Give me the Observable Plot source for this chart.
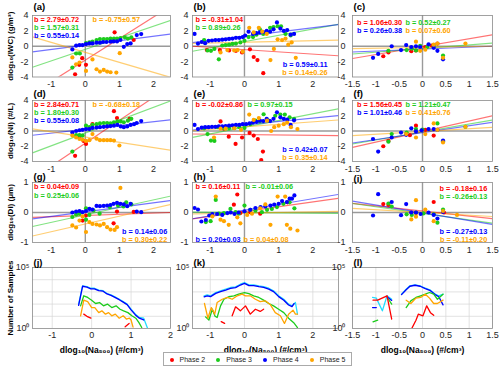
<!DOCTYPE html>
<html><head><meta charset="utf-8">
<script src="https://cdn.jsdelivr.net/npm/d3@7"></script>
<script src="https://cdn.jsdelivr.net/npm/@observablehq/plot@0.6"></script>
<style>
body{margin:0;background:#fff;}
#wrap{position:relative;width:500px;height:370px;overflow:hidden;font-family:"Liberation Sans",Arial,sans-serif;}
#legend{position:absolute;left:163px;top:352px;width:189px;height:14px;border:1px solid #aaa;font-size:7px;color:#222;display:flex;align-items:center;justify-content:space-around;box-sizing:border-box;background:#fff}
#legend span.dot{display:inline-block;width:4px;height:4px;border-radius:50%;margin-right:6px;vertical-align:middle}
</style></head>
<body><div id="wrap"></div>
<script>
// ---------- tick labels ----------
const ticksWide = [-1, 0, 1, 2];
const ticksNarrow = [-1.5, -1, -0.5, 0, 0.5, 1, 1.5];
const ticksRow12 = [-4, -2, 0, 2, 4];
const ticksRow3 = [-1, 0, 1];
const ticksCount = [1, 100000];
const gridCount = [10, 100, 1000, 10000];
const phaseNames = ["Phase 2", "Phase 3", "Phase 4", "Phase 5"];
const yTitles = ["dlog₁₀(IWC) (g/m³)", "dlog₁₀(Ni) (#/L)", "dlog₁₀(Di) (μm)", "Number of Samples"];
const xTitle = "dlog₁₀(Na₅₀₀) (#/cm³)";

// ---------- (a) IWC ----------
const aRed = [[-0.3,-3.65],[-0.18,-2.42],[-0.09,-1.55],[0.02,-2.42],[0.86,1.81],[1.42,0.81]];
const aGreen = [[-0.38,-2.77],[-0.27,-0.94],[-0.16,-0.94],[0.02,0.41],[0.12,0.5],[0.21,0.6],[0.33,0.8],[0.43,0.94],[0.54,0.94],[0.64,0.94],[0.74,1.0],[0.84,1.0],[0.93,1.0],[1.03,1.07],[1.16,1.16],[1.25,1.0],[1.35,1.16]];
const aBlue = [[-0.38,-0.41],[-0.27,0.07],[-0.17,0.15],[-0.08,0.15],[0.02,0.28],[0.12,0.37],[0.21,0.37],[0.33,0.46],[0.43,0.46],[0.52,0.55],[0.62,0.55],[0.74,0.59],[0.83,0.63],[0.93,0.63],[1.03,0.81],[1.13,-0.07],[1.23,0.28],[1.33,0.37],[1.51,1.46],[1.64,1.59]];
const aOrange = [[-0.38,-1.46],[-0.27,-2.34],[-0.17,-2.12],[0.02,-3.21],[0.21,-1.72],[0.33,-2.99],[0.43,-3.3],[0.54,-3.08],[0.64,-3.3],[0.74,-3.38],[0.91,-3.43],[1.01,-0.9]];
const aFits = [[-1.8,2.8],[-0.4,1.5],[0.15,0.57],[-0.8,-1.3]];
const aNotes = ["b = 2.79±0.72","b = 1.57±0.31","b = 0.55±0.14","b = -0.75±0.57"];

// ---------- (b) IWC ----------
const bRed = [[-1.1,-0.5],[-0.72,-0.5],[-0.45,-0.55],[-0.25,-0.6],[-0.07,-0.8],[0.16,-0.4],[0.27,-1.4],[0.38,-1.8],[0.55,-3.5]];
const bGreen = [[-1.18,0.8],[-1.08,-0.55],[-0.98,-0.6],[-0.88,-0.35],[-0.75,-1.7],[-0.65,0.1],[-0.55,0.15],[-0.45,0.2],[-0.35,0.3],[-0.25,0.35],[-0.12,0.5],[0.0,0.7],[0.12,1.2],[0.25,1.2],[0.35,1.5],[0.45,2.2],[0.55,1.6],[0.65,1.8],[0.75,2.4],[0.85,2.5],[0.97,2.6],[1.07,2.6],[1.2,1.6],[1.35,1.4]];
const bBlue = [[-1.46,1.6],[-1.36,0.35],[-1.25,0.55],[-1.15,0.4],[-1.05,0.7],[-0.95,0.75],[-0.85,0.8],[-0.75,0.8],[-0.65,0.85],[-0.55,0.9],[-0.45,0.95],[-0.35,1.0],[-0.25,1.1],[-0.15,1.1],[-0.05,1.2],[0.02,1.4],[0.12,1.9],[0.25,1.6],[0.35,1.7],[0.45,1.8],[0.55,1.85],[0.65,2.0],[0.75,1.9],[0.85,2.2],[0.95,3.1],[1.05,2.3],[1.15,2.0],[1.25,2.1],[1.35,1.5],[1.45,1.6]];
const bOrange = [[-0.7,-0.8],[-0.5,-0.5],[-0.3,-0.55],[-0.2,-0.5],[-0.05,-0.7],[0.14,2.4],[0.27,1.8],[0.42,2.4],[0.52,1.9],[0.65,1.6],[0.76,-1.8],[0.86,-0.35],[0.97,0.9],[1.1,0.8],[1.2,1.0],[1.28,0.2],[1.38,0.5],[1.5,-1.5]];
const bFits = [[-0.44,-0.29],[0.6,0.82],[1.3,0.55],[0.53,0.1]];
const bNotes = ["b = -0.31±1.04","b = 0.89±0.26","b = 0.59±0.11","b = 0.14±0.26"];

// ---------- (c) IWC ----------
const cRed = [[-0.84,-1.3],[-0.73,-0.8],[-0.24,-0.65],[-0.14,-0.55],[0.06,-0.1],[0.2,0.1],[0.32,0.35]];
const cGreen = [[-0.73,-0.6],[-0.34,-0.5],[-0.23,-0.3],[-0.14,-0.55],[-0.05,0.05],[0.1,-0.1],[0.24,0.1],[0.44,-1.2]];
const cBlue = [[-1.06,-1.5],[-0.95,-1.0],[-0.66,0.0],[-0.46,-0.5],[-0.35,0.15],[-0.24,-0.1],[-0.14,0.0],[-0.05,-0.1],[0.13,0.25],[0.24,-0.2],[0.32,-0.6],[0.44,-1.7]];
const cOrange = [[-0.14,0.6],[-0.05,-0.6],[0.06,-0.45],[0.24,0.2],[0.32,0.35],[0.44,-1.5],[0.92,0.35]];
const cFits = [[-0.05,1.03],[-0.3,0.47],[-0.37,0.25],[-0.15,0.1]];
const cNotes = ["b = 1.06±0.30","b = 0.52±0.27","b = 0.26±0.38","b = 0.07±0.60"];

// ---------- (d) Ni ----------
const dRed = [[-0.3,-3.25],[-0.17,-0.8],[-0.05,-1.3],[0.02,-1.7],[0.21,0.9],[0.84,2.6],[0.93,1.7],[1.3,1.6]];
const dGreen = [[-0.38,-2.7],[-0.27,-0.55],[-0.17,-0.55],[-0.08,-0.6],[0.02,0.7],[0.12,0.5],[0.21,0.8],[0.33,0.9],[0.43,1.0],[0.54,1.05],[0.64,1.05],[0.74,1.0],[0.84,1.15],[0.94,1.25],[1.04,1.25],[1.13,1.15],[1.25,1.35],[1.35,1.6]];
const dBlue = [[-0.38,-0.2],[-0.27,0.0],[-0.17,0.1],[-0.08,0.15],[0.02,0.25],[0.12,0.25],[0.21,0.4],[0.33,0.45],[0.43,0.5],[0.54,0.55],[0.64,0.6],[0.74,0.65],[0.84,0.7],[0.94,0.8],[1.04,0.6],[1.13,0.5],[1.23,0.6],[1.33,0.8],[1.43,0.9],[1.51,1.05],[1.64,1.3]];
const dOrange = [[-0.38,-0.6],[-0.27,-0.85],[-0.17,-1.05],[-0.08,-1.15],[0.02,-1.3],[0.12,-1.2],[0.21,-0.4],[0.33,-1.0],[0.43,-1.2],[0.54,-1.2],[0.64,-1.2],[0.74,-1.2],[0.84,-1.25],[1.0,-1.9]];
const dFits = [[-1.6,3.0],[-0.26,1.68],[0.22,0.5],[-0.78,-0.69]];
const dNotes = ["b = 2.84±0.71","b = 1.80±0.30","b = 0.55±0.08","b = -0.68±0.18"];

// ---------- (e) Ni ----------
const eRed = [[-0.7,1.25],[-0.6,0.3],[-0.46,-0.75],[-0.26,-1.7],[-0.07,-0.85],[0.15,-0.25],[0.27,-0.6],[0.39,-1.05],[0.54,-2.7],[0.49,-3.8]];
const eGreen = [[-1.18,0.35],[-1.08,-0.4],[-0.98,-1.25],[-0.88,-1.3],[-0.78,0.5],[-0.6,0.35],[-0.45,0.35],[-0.3,0.4],[-0.15,0.5],[0.0,0.4],[0.17,0.9],[0.32,1.35],[0.45,1.25],[0.56,2.2],[0.7,1.35],[0.9,2.0],[1.05,2.15],[1.18,2.15],[1.32,1.8],[1.45,1.6]];
const eBlue = [[-1.46,0.8],[-1.36,0.25],[-1.25,0.45],[-1.15,0.5],[-1.05,0.5],[-0.95,0.55],[-0.85,0.55],[-0.75,0.6],[-0.65,0.6],[-0.55,0.65],[-0.45,0.7],[-0.35,0.75],[-0.25,0.8],[-0.15,0.8],[-0.05,0.9],[0.05,0.9],[0.15,1.0],[0.25,1.1],[0.35,1.2],[0.45,1.35],[0.55,1.3],[0.65,1.6],[0.75,1.3],[0.85,1.6],[0.95,2.45],[1.05,1.8],[1.15,1.6],[1.25,1.5],[1.35,0.8],[1.45,1.4]];
const eOrange = [[-0.89,-0.85],[-0.7,0.3],[-0.55,0.3],[-0.3,0.35],[-0.1,0.15],[0.14,2.15],[0.27,1.45],[0.42,1.7],[0.66,1.35],[0.78,0.0],[0.87,0.5],[1.0,0.7],[1.15,0.9],[1.25,1.1],[1.36,0.5],[1.55,0.25]];
const eFits = [[-0.47,-0.05],[0.5,0.88],[0.8,0.44],[0.54,0.33]];
const eNotes = ["b = -0.02±0.86","b = 0.97±0.15","b = 0.42±0.07","b = 0.35±0.14"];

// ---------- (f) Ni ----------
const fRed = [[-0.84,-2.0],[-0.73,-1.3],[-0.27,-0.55],[-0.14,0.7],[0.06,0.15],[0.24,-0.6]];
const fGreen = [[-0.73,-1.4],[-0.66,-0.4],[-0.34,-0.2],[-0.14,0.25],[0.0,0.2],[0.32,1.0],[0.44,-1.35],[0.92,0.55]];
const fBlue = [[-1.06,-1.05],[-0.95,-2.7],[-0.66,-0.85],[-0.46,-0.2],[-0.35,-0.5],[-0.24,0.35],[-0.14,-0.05],[-0.02,0.1],[0.13,0.25],[0.24,0.25],[0.32,0.15],[0.44,-1.25]];
const fOrange = [[-0.35,-0.4],[-0.14,-0.85],[0.06,-0.4],[0.24,1.0],[0.32,0.15],[0.44,-1.5],[0.92,0.55]];
const fFits = [[-0.07,1.38],[-0.13,1.05],[-0.22,0.9],[-0.06,0.36]];
const fNotes = ["b = 1.56±0.45","b = 1.21±0.47","b = 1.01±0.46","b = 0.41±0.76"];

// ---------- (g) Di ----------
const gRed = [[-0.08,-0.27],[0.02,-0.1],[0.83,-0.36],[0.93,0.03],[1.42,0.02]];
const gGreen = [[-0.38,-0.15],[-0.27,-0.07],[-0.17,-0.04],[0.02,0.14],[0.02,-0.24],[0.12,-0.08],[0.24,0.07],[0.42,-0.04],[0.72,0.18],[0.96,0.23],[1.12,0.2],[1.2,0.34],[1.35,0.27]];
const gBlue = [[-0.38,0.0],[-0.27,0.03],[-0.17,0.05],[-0.08,0.01],[0.02,0.05],[0.12,0.12],[0.21,0.1],[0.33,0.22],[0.43,0.21],[0.54,0.22],[0.64,0.23],[0.74,0.25],[0.83,0.29],[0.93,0.32],[1.03,0.29],[1.13,0.27],[1.23,0.21],[1.33,0.29],[1.51,0.03],[1.64,0.01]];
const gOrange = [[-0.38,-0.43],[-0.27,-0.5],[-0.17,-0.27],[-0.08,-0.13],[0.02,-0.65],[0.12,-0.32],[0.21,-0.38],[0.33,-0.4],[0.43,-0.43],[0.54,-0.38],[0.64,-0.49],[0.74,-0.57],[0.86,-0.58],[0.93,-0.49],[1.03,0.82]];
const gFits = [[-0.1,0.04],[-0.08,0.25],[0.02,0.15],[-0.38,0.26]];
const gNotes = ["b = 0.04±0.09","b = 0.25±0.06","b = 0.14±0.06","b = 0.30±0.22"];

// ---------- (h) Di ----------
const hRed = [[-0.31,0.26],[-0.21,0.6],[-0.12,-0.02],[0.17,0.01],[0.46,-0.04],[1.26,0.34]];
const hGreen = [[-1.13,-0.32],[-0.99,-0.29],[-0.84,0.42],[-0.75,-0.04],[-0.6,-0.02],[-0.41,0.12],[-0.26,0.01],[-0.17,-0.04],[0.0,0.23],[0.17,0.09],[0.32,0.07],[0.51,0.01],[0.66,0.09],[0.8,0.12],[0.95,0.18],[1.14,0.29],[1.32,0.34],[1.46,0.14]];
const hBlue = [[-1.46,0.15],[-1.36,0.1],[-1.26,-0.3],[-1.13,-0.25],[-1.03,-0.1],[-0.94,-0.05],[-0.8,-0.05],[-0.65,-0.08],[-0.5,-0.02],[-0.4,0.0],[-0.29,-0.05],[-0.17,0.0],[0.0,0.04],[0.17,0.09],[0.32,0.15],[0.47,0.18],[0.61,0.2],[0.76,0.23],[0.87,0.26],[1.0,0.29],[1.1,0.38],[1.24,0.35],[1.32,0.46],[1.39,0.46],[1.46,0.57]];
const hOrange = [[-0.84,0.53],[-0.94,-0.13],[-0.7,-0.24],[-0.6,-0.29],[-0.46,-0.41],[-0.21,-0.16],[-0.12,-0.36],[0.08,-0.08],[0.22,-0.04],[0.46,0.14],[0.61,0.27],[0.76,-0.41],[0.97,0.53],[1.19,0.53],[1.24,-0.41],[1.34,-0.54],[1.55,-0.6]];
const hFits = [[0.03,0.16],[0.0,-0.01],[0.08,0.19],[-0.02,0.02]];
const hNotes = ["b = 0.16±0.11","b = -0.01±0.06","b = 0.20±0.03","b = 0.04±0.08"];

// ---------- (i) Di ----------
const iRed = [[-0.84,0.28],[-0.73,0.25],[-0.24,0.0],[-0.14,-0.02],[0.24,0.35],[0.46,0.0]];
const iGreen = [[-0.73,0.3],[-0.66,0.2],[-0.34,-0.06],[-0.23,-0.08],[-0.14,0.0],[0.02,-0.03],[0.24,-0.06],[0.32,-0.34],[0.44,0.1]];
const iBlue = [[-1.06,-0.1],[-0.95,0.61],[-0.66,0.35],[-0.46,-0.09],[-0.35,0.28],[-0.24,0.0],[-0.14,0.0],[-0.04,-0.05],[0.13,0.0],[0.24,-0.08],[0.32,-0.2],[0.44,0.02]];
const iOrange = [[-0.14,0.41],[-0.24,-0.23],[-0.14,-0.14],[0.06,0.1],[0.24,-0.29],[0.44,0.05],[0.74,-0.08]];
const iFits = [[0.05,-0.17],[-0.03,-0.22],[-0.01,-0.26],[0.0,-0.09]];
const iNotes = ["b = -0.18±0.16","b = -0.26±0.13","b = -0.27±0.13","b = -0.11±0.20"];

// ---------- (j)(k)(l) number of samples (null = gap) ----------
const jCyan = [[-0.33,100],[-0.23,3160],[-0.12,2750],[-0.02,2000],[0.07,2000],[0.18,1380],[0.29,1260],[0.39,740],[0.49,575],[0.59,400],[0.7,250],[0.8,160],[0.9,100],[1.0,38],[1.11,15],[1.21,8],[1.32,7],[1.42,1]];
const jBlue = [[-0.33,80],[-0.23,2900],[-0.12,2500],[-0.02,1800],[0.07,1800],[0.18,1250],[0.29,1150],[0.39,680],[0.49,520],[0.59,360],[0.7,230],[0.8,145],[0.9,90],[1.0,34],[1.11,13],[1.21,7],[1.32,5]];
const jGreen = [[-0.28,72],[-0.2,480],[-0.1,350],[0,210],[0.1,112],[0.2,135],[0.3,72],[0.4,100],[0.51,52],[0.62,72],[0.72,38],[0.81,28],[0.92,20],[1.02,11],[1.12,7],[1.2,3],[1.27,1.2]];
const jOrange = [[-0.28,11],[-0.2,210],[-0.1,160],[0,52],[0.08,52],[0.18,20],[0.26,28],[0.35,15],[0.43,20],[0.51,11],[0.6,15],[0.7,7],[0.8,11],[0.88,6],[0.96,7],[1.0,5],[1.05,1.3]];
const jRed = [[-0.2,15],[-0.12,10],[-0.02,7],[0.05,null],[0.85,1.4],[0.95,2.6]];
const kCyan = [[-1.18,480],[-1.09,575],[-0.99,480],[-0.84,890],[-0.7,1230],[-0.55,1660],[-0.41,2290],[-0.26,2630],[-0.12,4270],[0,5890],[0.13,3800],[0.27,3800],[0.42,3160],[0.56,2750],[0.71,2000],[0.85,1230],[1.0,480],[1.15,250],[1.29,100],[1.39,72],[1.49,135],[1.55,15]];
const kBlue = [[-1.18,400],[-1.09,480],[-0.99,410],[-0.84,760],[-0.7,1050],[-0.55,1420],[-0.41,1950],[-0.26,2250],[-0.12,3650],[0,5000],[0.13,3250],[0.27,3250],[0.42,2700],[0.56,2350],[0.71,1700],[0.85,1050],[1.0,410],[1.15,210],[1.29,85],[1.39,62],[1.45,110]];
const kGreen = [[-1.14,9],[-1.04,5],[-0.94,38],[-0.86,10],[-0.8,8],[-0.7,72],[-0.6,250],[-0.46,400],[-0.31,480],[-0.17,650],[0,890],[0.13,710],[0.27,480],[0.42,350],[0.56,210],[0.71,112],[0.85,72],[1.0,38],[1.15,20],[1.29,7],[1.44,3],[1.55,1.2]];
const kOrange = [[-1.17,112],[-1.07,7],[-0.97,52],[-0.87,15],[-0.8,135],[-0.65,250],[-0.5,350],[-0.36,250],[-0.21,480],[-0.07,650],[0.03,480],[0.17,480],[0.32,250],[0.46,160],[0.61,185],[0.76,87],[0.9,20],[1.05,11],[1.17,2.6],[1.29,15],[1.42,32],[1.49,15],[1.55,15]];
const kRed = [[-0.68,3.7],[-0.58,2.6],[-0.5,null],[-0.36,11],[-0.26,60],[-0.12,28],[0.03,72],[0.17,15],[0.32,38],[0.46,25],[0.56,38]];
const lCyan = [[-1.07,350],[-0.99,310],[-0.86,28],[-0.76,480],[-0.66,250],[-0.55,null],[-0.45,650],[-0.35,1660],[-0.27,3160],[-0.16,3800],[-0.05,3160],[0.06,2000],[0.17,1380],[0.27,650],[0.35,480],[0.44,650]];
const lBlue = [[-1.07,52],[-0.99,52],[-0.9,null],[-0.76,400],[-0.66,200],[-0.55,null],[-0.45,600],[-0.35,1500],[-0.27,2900],[-0.16,3500],[-0.05,2900],[0.06,1850],[0.17,1250],[0.27,600],[0.35,400],[0.44,87]];
const lGreen = [[-1.06,3.5],[-0.96,4.8],[-0.85,null],[-0.73,250],[-0.66,100],[-0.55,null],[-0.35,52],[-0.25,185],[-0.14,350],[-0.04,480],[0.06,650],[0.15,890],[0.24,650],[0.32,250],[0.44,650]];
const lOrange = [[-0.35,210],[-0.25,112],[-0.14,310],[-0.04,350],[0.06,650],[0.15,310],[0.24,112],[0.32,112],[0.44,210]];
const lRed = [[-1.06,210],[-0.96,210],[-0.76,480],[-0.66,6],[-0.5,null],[-0.23,1],[-0.14,4.8],[-0.09,15],[0.01,11],[0.09,72],[0.17,20],[0.24,12]];

const COL = {red:"#ff0000", green:"#1ccc1c", blue:"#0000ff", orange:"#ffa500", cyan:"#22dcff"};
const phases = ["red","green","blue","orange"];
const wrap = document.getElementById("wrap");
const fmt = d => String(d);

// frame positions (layout)
const colX = [[32,170],[192,338],[352,492]];
const rowY = [[14.5,76],[100,161],[182,242],[267,328]];
const labelDy = [-8.5, -7, -5.2, -5];

function place(svg, fx, fy, ml, mt) {
  svg.style.position = "absolute";
  svg.style.left = (fx[0]-ml) + "px";
  svg.style.top = (fy[0]-mt) + "px";
  wrap.appendChild(svg);
}

const baseStyle = {fontFamily:"'Liberation Sans',Arial,sans-serif", fontSize:"9px", color:"#262626", overflow:"visible", background:"transparent"};

function scatter(p) {
  const ml = 36, mr = 4, mt = 14, mb = 20;
  const fx = colX[p.col], fy = rowY[p.row];
  const xd = p.xd;
  const marks = [
    Plot.ruleX([0], {stroke:"#9a9a9a", strokeWidth:1.4}),
    Plot.ruleY([0], {stroke:"#9a9a9a", strokeWidth:1.4})
  ];
  phases.forEach((ph, i) => {
    marks.push(Plot.link([p.fits[i]], {x1: () => xd[0], x2: () => xd[1], y1: d => d[0] + d[1]*xd[0], y2: d => d[0] + d[1]*xd[1], stroke: COL[ph], strokeOpacity: 0.55, strokeWidth: 1.2, clip: true}));
  });
  phases.forEach((ph, i) => {
    marks.push(Plot.dot(p.pts[i], {x: d => d[0], y: d => d[1], fill: COL[ph], r: 2.1, clip: true}));
  });
  marks.push(Plot.frame({stroke:"#8a8a8a", strokeWidth:0.8}));
  p.notes.forEach((t, i) => {
    const n = p.pos[i];
    marks.push(Plot.text([t], {text: d => d, frameAnchor: n[0], textAnchor: n[0].endsWith("right") ? "end" : "start", lineAnchor: "middle", dx: n[1], dy: n[2], fill: COL[phases[i]], fontWeight: "bold", fontSize: 7.3}));
  });
  const ldy = p.labelDy !== undefined ? p.labelDy : labelDy[p.row];
  marks.push(Plot.text([p.id], {text: d => d, frameAnchor:"top-left", textAnchor:"start", lineAnchor:"middle", dx:1, dy:ldy, fontWeight:"bold", fontSize:9.5, fill:"#000"}));
  if (p.col === 0) marks.push(Plot.text([yTitles[p.row]], {text: d => d, frameAnchor:"left", rotate:-90, dx:-22, textAnchor:"middle", fontWeight:"bold", fontSize:8, fill:"#000"}));
  const svg = Plot.plot({
    width: fx[1]-fx[0]+ml+mr, height: fy[1]-fy[0]+mt+mb,
    marginLeft: ml, marginRight: mr, marginTop: mt, marginBottom: mb,
    style: baseStyle,
    x: {domain: xd, ticks: p.xt, tickFormat: fmt, tickSize: 0, tickPadding: 4, label: null},
    y: {domain: p.yd, ticks: p.yt, tickFormat: fmt, tickSize: 0, tickPadding: p.col === 2 ? 7 : 4, label: null},
    marks
  });
  place(svg, fx, fy, ml, mt);
}

function counts(p) {
  const ml = 36, mr = 4, mt = 14, mb = 30;
  const fx = colX[p.col], fy = rowY[3];
  const order = [["cyan", p.series[0]], ["blue", p.series[1]], ["green", p.series[2]], ["orange", p.series[3]], ["red", p.series[4]]];
  const marks = [
    Plot.gridX(p.xt, {stroke:"#d6d6d6", strokeOpacity:1, strokeWidth:0.7}),
    Plot.gridY(gridCount, {stroke:"#d6d6d6", strokeOpacity:1, strokeWidth:0.7})
  ];
  order.forEach(([c, s]) => marks.push(Plot.line(s, {x: d => d[0], y: d => d[1], stroke: COL[c], strokeWidth: 1.3, clip: true})));
  marks.push(Plot.frame({stroke:"#8a8a8a", strokeWidth:0.8}));
  marks.push(Plot.text([p.id], {text: d => d, frameAnchor:"top-left", textAnchor:"start", lineAnchor:"middle", dx:1, dy:labelDy[3], fontWeight:"bold", fontSize:9.5, fill:"#000"}));
  marks.push(Plot.text([xTitle], {text: d => d, frameAnchor:"bottom", lineAnchor:"middle", dy:22, fontWeight:"bold", fontSize:8.5, fill:"#000"}));
  if (p.col === 0) marks.push(Plot.text([yTitles[3]], {text: d => d, frameAnchor:"left", rotate:-90, dx:-22, textAnchor:"middle", fontWeight:"bold", fontSize:8, fill:"#000"}));
  const svg = Plot.plot({
    width: fx[1]-fx[0]+ml+mr, height: fy[1]-fy[0]+mt+mb,
    marginLeft: ml, marginRight: mr, marginTop: mt, marginBottom: mb,
    style: baseStyle,
    x: {domain: p.xd, ticks: p.xt, tickFormat: fmt, tickSize: 0, tickPadding: 3, label: null},
    y: {type: "log", domain: [1, 100000], ticks: ticksCount, tickFormat: d => d === 1 ? "10⁰" : "10⁵", tickSize: 0, tickPadding: p.col === 2 ? 7 : 3, label: null},
    marks
  });
  place(svg, fx, fy, ml, mt);
}

const wideB = [-1.52, 2.75];
scatter({id:"(a)", col:0, row:0, xd:[-1.55,2.5], xt:ticksWide, yd:[-4,4], yt:ticksRow12, pts:[aRed,aGreen,aBlue,aOrange], fits:aFits, notes:aNotes,
  pos:[["top-left",1.5,4],["top-left",1.5,12],["top-left",1.5,20],["top-left",60,4]]});
scatter({id:"(b)", col:1, row:0, xd:wideB, xt:ticksWide, yd:[-4,4], yt:ticksRow12, pts:[bRed,bGreen,bBlue,bOrange], fits:bFits, notes:bNotes,
  pos:[["top-left",3,4],["top-left",3,12],["bottom-right",-11,-12.2],["bottom-right",-11,-4.2]]});
scatter({id:"(c)", col:2, row:0, xd:[-1.5,1.5], xt:ticksNarrow, yd:[-4,4], yt:ticksRow12, pts:[cRed,cGreen,cBlue,cOrange], fits:cFits, notes:cNotes,
  pos:[["top-left",4.5,7.5],["top-left",53,7.5],["top-left",4.5,15.5],["top-left",53,15.5]]});
scatter({id:"(d)", col:0, row:1, xd:[-1.55,2.5], xt:ticksWide, yd:[-4,4], yt:ticksRow12, pts:[dRed,dGreen,dBlue,dOrange], fits:dFits, notes:dNotes,
  pos:[["top-left",1.5,4],["top-left",1.5,12],["top-left",1.5,20],["top-left",60,4]]});
scatter({id:"(e)", col:1, row:1, xd:wideB, xt:ticksWide, yd:[-4,4], yt:ticksRow12, pts:[eRed,eGreen,eBlue,eOrange], fits:eFits, notes:eNotes,
  pos:[["top-left",3,4],["top-left",55,4],["bottom-right",-11,-12.2],["bottom-right",-11,-4.2]]});
scatter({id:"(f)", col:2, row:1, xd:[-1.5,1.5], xt:ticksNarrow, yd:[-4,4], yt:ticksRow12, pts:[fRed,fGreen,fBlue,fOrange], fits:fFits, notes:fNotes,
  pos:[["top-left",4.5,4],["top-left",53,4],["top-left",4.5,12],["top-left",53,12]]});
scatter({id:"(g)", col:0, row:2, xd:[-1.55,2.5], xt:ticksWide, yd:[-1,1], yt:ticksRow3, pts:[gRed,gGreen,gBlue,gOrange], fits:gFits, notes:gNotes,
  pos:[["top-left",1.5,4.6],["top-left",1.5,12.8],["bottom-right",-3.3,-11],["bottom-right",-3.3,-3]]});
scatter({id:"(h)", col:1, row:2, xd:wideB, xt:ticksWide, yd:[-1,1], yt:ticksRow3, pts:[hRed,hGreen,hBlue,hOrange], fits:hFits, notes:hNotes,
  pos:[["top-left",3,4.6],["top-left",53,4.6],["bottom-left",3,-3],["bottom-left",51,-3]]});
scatter({id:"(i)", col:2, row:2, labelDy:-3.2, xd:[-1.5,1.5], xt:ticksNarrow, yd:[-1,1], yt:ticksRow3, pts:[iRed,iGreen,iBlue,iOrange], fits:iFits, notes:iNotes,
  pos:[["top-right",-5.3,6.5],["top-right",-5.3,14.5],["bottom-right",-5.3,-11],["bottom-right",-5.3,-3]]});

counts({id:"(j)", col:0, xd:[-1.5,2], xt:ticksWide, series:[jCyan,jBlue,jGreen,jOrange,jRed]});
counts({id:"(k)", col:1, xd:wideB, xt:ticksWide, series:[kCyan,kBlue,kGreen,kOrange,kRed]});
counts({id:"(l)", col:2, xd:[-1.5,1.5], xt:ticksNarrow, series:[lCyan,lBlue,lGreen,lOrange,lRed]});

// legend
const leg = document.createElement("div");
leg.id = "legend";
phases.forEach((ph, i) => {
  const item = document.createElement("div");
  const dot = document.createElement("span");
  dot.className = "dot"; dot.style.background = COL[ph];
  item.appendChild(dot);
  item.appendChild(document.createTextNode(phaseNames[i]));
  leg.appendChild(item);
});
wrap.appendChild(leg);
</script>
</body></html>
